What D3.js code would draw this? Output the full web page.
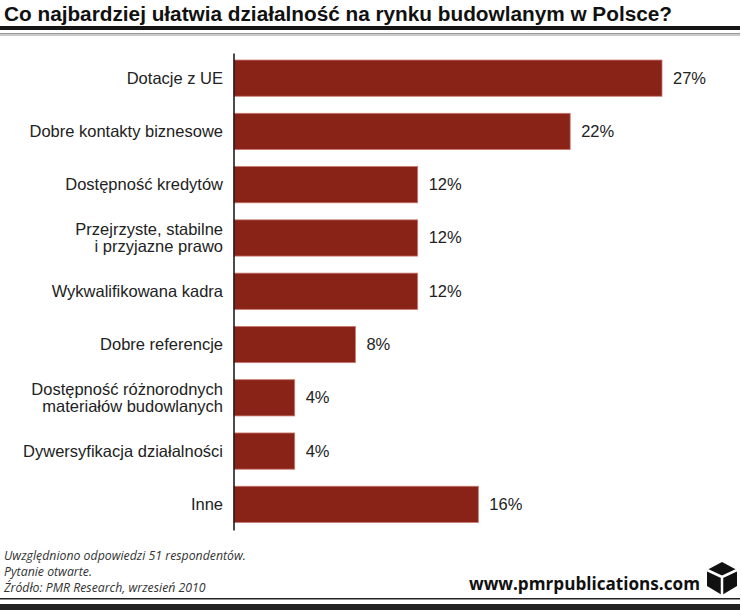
<!DOCTYPE html>
<html><head><meta charset="utf-8">
<script src="https://cdn.jsdelivr.net/npm/d3@7/dist/d3.min.js"></script>
<style>body{margin:0;background:#fff}svg{display:block}</style>
</head><body>
<script>
const categories = [
  ["Dotacje z UE"],
  ["Dobre kontakty biznesowe"],
  ["Dostępność kredytów"],
  ["Przejrzyste, stabilne","i przyjazne prawo"],
  ["Wykwalifikowana kadra"],
  ["Dobre referencje"],
  ["Dostępność różnorodnych","materiałów budowlanych"],
  ["Dywersyfikacja działalności"],
  ["Inne"]
];
const values = [27.5, 21.6, 11.8, 11.8, 11.8, 7.8, 3.9, 3.9, 15.7];
const valueLabels = ["27%","22%","12%","12%","12%","8%","4%","4%","16%"];
const titleText = "Co najbardziej ułatwia działalność na rynku budowlanym w Polsce?";
const notes = ["Uwzględniono odpowiedzi 51 respondentów.","Pytanie otwarte.","Źródło: PMR Research, wrzesień 2010"];
const siteText = "www.pmrpublications.com";

const W = 742, H = 610;
const svg = d3.select("body").append("svg").attr("width", W).attr("height", H);

// title
svg.append("text").attr("x", 4).attr("y", 21)
  .attr("font-family", "'Liberation Sans', Arial, sans-serif")
  .attr("font-weight", "bold").attr("font-size", 20).attr("fill", "#111")
  .attr("textLength", 668).attr("lengthAdjust", "spacingAndGlyphs")
  .text(titleText);
svg.append("rect").attr("x", 0).attr("y", 26).attr("width", 740).attr("height", 4).attr("fill", "#151515");
svg.append("rect").attr("x", 0).attr("y", 33).attr("width", 740).attr("height", 1.5).attr("fill", "#9a9a9a");
svg.append("rect").attr("x", 0).attr("y", 34.5).attr("width", 740).attr("height", 1.5).attr("fill", "#c8c8c8");

// scales
const x0 = 234;
const x = d3.scaleLinear().domain([0, 27.5]).range([x0, 662]);
const y = d3.scaleBand().domain(d3.range(categories.length)).range([51.5, 531]).paddingInner(0.32).paddingOuter(0.16);

// bars
svg.append("g").selectAll("rect").data(values).join("rect")
  .attr("x", x(0)).attr("y", (d,i) => y(i))
  .attr("width", d => x(d) - x(0)).attr("height", y.bandwidth())
  .attr("fill", "#8a2317").attr("stroke", "#c9776e").attr("stroke-width", 0.8);

// axis line
const axis = d3.axisLeft(d3.scaleLinear().range([53, 530])).ticks(0).tickSize(0);
svg.append("g").attr("transform", `translate(${x0-0.5},0)`).call(axis)
  .call(g => g.select(".domain").attr("stroke", "#111").attr("stroke-width", 1.5));

// category labels
const lab = svg.append("g").attr("font-family", "'Liberation Sans', Arial, sans-serif").attr("font-size", 16.5).attr("fill", "#222").attr("text-anchor", "end");
categories.forEach((lines, i) => {
  const cy = y(i) + y.bandwidth()/2;
  const lh = 17.5;
  const t = lab.append("text").attr("x", 223);
  lines.forEach((l, j) => {
    t.append("tspan").attr("x", 223).attr("y", cy + 5.5 + (j - (lines.length-1)/2) * lh).text(l);
  });
});

// value labels
svg.append("g").attr("font-family", "'Liberation Sans', Arial, sans-serif").attr("font-size", 16.5).attr("fill", "#222")
  .selectAll("text").data(values).join("text")
  .attr("x", d => x(d) + 11).attr("y", (d,i) => y(i) + y.bandwidth()/2 + 5.5)
  .text((d,i) => valueLabels[i]);

// notes
svg.append("g").attr("font-family", "'Open Sans', 'DejaVu Sans', sans-serif").attr("font-style", "italic").attr("font-size", 12.3).attr("fill", "#333")
  .selectAll("text").data(notes).join("text")
  .attr("x", 4).attr("y", (d,i) => 560 + i*16).text(d => d);

// site text + logo
svg.append("text").attr("x", 700).attr("y", 590).attr("text-anchor", "end")
  .attr("font-family", "'Open Sans', 'DejaVu Sans', sans-serif").attr("font-weight", "bold").attr("font-size", 17).attr("fill", "#111")
  .attr("textLength", 231).attr("lengthAdjust", "spacingAndGlyphs")
  .text(siteText);
const lg = svg.append("g").attr("transform", "translate(722,578)");
lg.append("path").attr("d", "M0,-16 L15,-8 L15,8 L0,17 L-15,8 L-15,-8 Z").attr("fill", "#111");
lg.append("path").attr("d", "M-15,-8 L0,-1 L15,-8 M0,-1 L0,17").attr("stroke", "#fff").attr("stroke-width", 2.5).attr("fill", "none");

// footer lines
svg.append("rect").attr("x", 0).attr("y", 598).attr("width", 740).attr("height", 1.5).attr("fill", "#222");
svg.append("rect").attr("x", 0).attr("y", 604).attr("width", 740).attr("height", 6).attr("fill", "#222");
</script>
</body></html>
